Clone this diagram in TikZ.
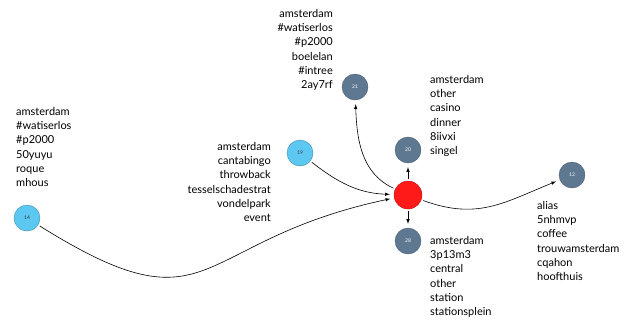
\documentclass[tikz,border=0pt]{standalone}
\usepackage{fontspec}
\setmainfont{Lato}
\usetikzlibrary{arrows}
\definecolor{hubred}{HTML}{FF1A1A}
\definecolor{slate}{HTML}{5F7892}
\definecolor{skyblue}{HTML}{5CC8F2}

\tikzset{
  user/.style={circle,draw=slate!80!black,fill=slate,minimum size=26pt,inner sep=0pt,text=white,font=\fontsize{5}{6}\selectfont},
  newuser/.style={circle,draw=skyblue!70!black,fill=skyblue,minimum size=26pt,inner sep=0pt,text=black!80,font=\fontsize{5}{6}\selectfont},
  tags/.style={inner sep=0pt,font=\fontsize{11}{14.3}\selectfont},
  link/.style={->,line width=0.6pt,shorten >=4pt,shorten <=2pt}
}

\begin{document}
\begin{tikzpicture}[line cap=round,line join=round,>=latex,x=1pt,y=1pt]
		\useasboundingbox (0,0) rectangle (642,-322);
		% users
		\node[circle,draw=hubred!70!black,fill=hubred,minimum size=28pt,inner sep=0pt] (hub) at (408,-195) {};
		\node[user] (n20) at (408,-150) {20};
		\node[user] (n28) at (408,-241) {28};
		\node[user] (n21) at (355,-87) {21};
		\node[user] (n12) at (572,-175) {12};
		\node[newuser] (n19) at (300,-153) {19};
		\node[newuser] (n14) at (27,-218) {14};
		% hashtags
		\node[tags,anchor=north west,align=left] (tags14) at (16,-107) {amsterdam\\\#watiserlos\\\#p2000\\50yuyu\\roque\\mhous};
		\node[tags,anchor=north east,align=right] (tags19) at (271,-142) {amsterdam\\cantabingo\\throwback\\tesselschadestrat\\vondelpark\\event};
		\node[tags,anchor=north east,align=right] (tags21) at (333,-9) {amsterdam\\\#watiserlos\\\#p2000\\boelelan\\\#intree\\2ay7rf};
		\node[tags,anchor=north west,align=left] (tags20) at (430,-75) {amsterdam\\other\\casino\\dinner\\8iivxi\\singel};
		\node[tags,anchor=north west,align=left] (tags28) at (430,-236) {amsterdam\\3p13m3\\central\\other\\station\\stationsplein};
		\node[tags,anchor=north west,align=left] (tags12) at (537,-201) {alias\\5nhmvp\\coffee\\trouwamsterdam\\cqahon\\hoofthuis};
		% retweets
		\draw[link] (n14) to[out=-32,in=192,looseness=1.5] (hub);
		\draw[link] (n19) to[out=-38,in=178] (hub);
		\draw[link] (hub) to[out=155,in=-88] (n21);
		\draw[link] (hub) -- (n20);
		\draw[link] (hub) -- (n28);
		\draw[link] (hub) to[out=-20,in=202,looseness=1.1] (n12);
		\end{tikzpicture}
\end{document}
